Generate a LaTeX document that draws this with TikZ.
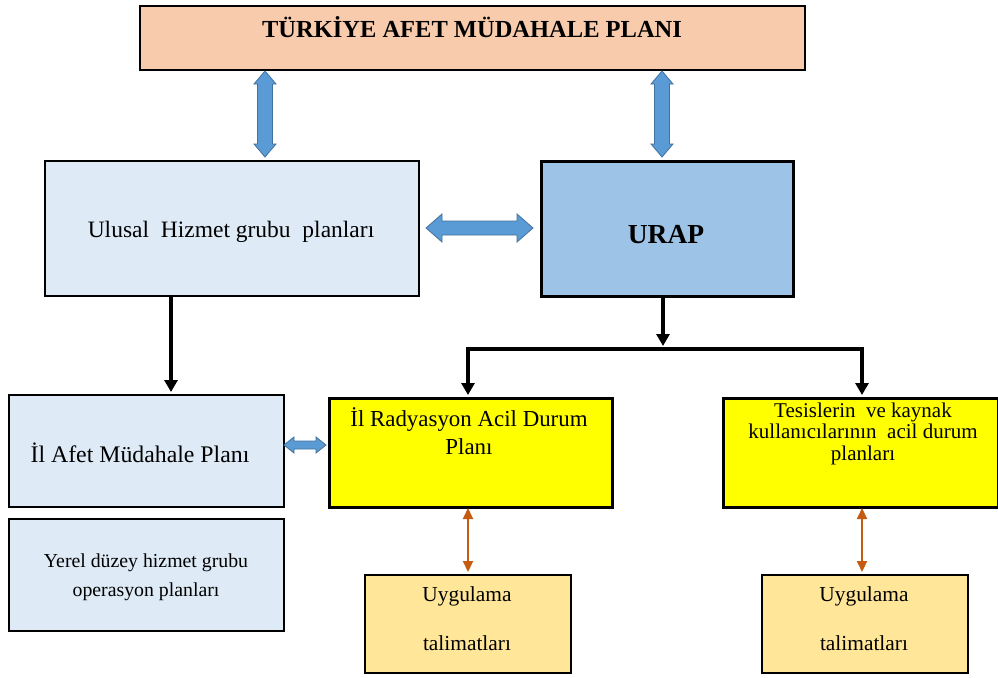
\documentclass[tikz,border=0pt]{standalone}
\usepackage{fontspec}
\setmainfont{Liberation Serif}
\usetikzlibrary{arrows.meta,calc}
\definecolor{peach}{HTML}{F8CBAD}
\definecolor{lblue}{HTML}{DEEBF7}
\definecolor{mblue}{HTML}{9DC3E6}
\definecolor{ablue}{HTML}{5B9BD5}
\definecolor{aedge}{HTML}{41719C}
\definecolor{lyel}{HTML}{FFE699}
\definecolor{pyel}{HTML}{FFFF00}
\definecolor{oarr}{HTML}{C55A11}
\tikzset{
  box/.style={draw=black, line width=2pt, inner sep=0pt, anchor=north west},
  blk/.style={draw=black, line width=4pt, -{Triangle[length=12pt,width=13pt]}},
  blkline/.style={draw=black, line width=4pt},
  org/.style={draw=oarr, line width=2pt, {Triangle[length=11pt,width=10pt]}-{Triangle[length=11pt,width=10pt]}},
  barrow/.style={fill=ablue, draw=aedge, line width=0.8pt, line join=miter}
}
% double block arrows: position, start, end, half shaft, half head, head length
\newcommand\vdblarrow[6]{%
  \filldraw[barrow] (#1,#2) -- (#1+#5,#2+#6) -- (#1+#4,#2+#6) -- (#1+#4,#3-#6) -- (#1+#5,#3-#6)
   -- (#1,#3) -- (#1-#5,#3-#6) -- (#1-#4,#3-#6) -- (#1-#4,#2+#6) -- (#1-#5,#2+#6) -- cycle;}
\newcommand\hdblarrow[6]{%
  \filldraw[barrow] (#2,#1) -- (#2+#6,#1+#5) -- (#2+#6,#1+#4) -- (#3-#6,#1+#4) -- (#3-#6,#1+#5)
   -- (#3,#1) -- (#3-#6,#1-#5) -- (#3-#6,#1-#4) -- (#2+#6,#1-#4) -- (#2+#6,#1-#5) -- cycle;}
\begin{document}
\begin{tikzpicture}[x=1pt,y=-1pt]
\useasboundingbox[fill=white] (0,0) rectangle (998,677);
% boxes
\node[box, fill=peach, minimum width=665pt, minimum height=64pt] (top) at (139,5) {};
\node[font=\fontsize{24.5}{28}\selectfont\bfseries] (toptxt) at (472,27) {TÜRKİYE AFET MÜDAHALE PLANI};

\node[box, fill=lblue, line width=1.6pt, minimum width=374pt, minimum height=135pt] (ulusal) at (44,160) {};
\node[font=\fontsize{23.5}{27}\selectfont] (ulusaltxt) at (231,232) {Ulusal\ \ Hizmet\ grubu\ \ planları};

\node[box, fill=mblue, line width=3pt, minimum width=252pt, minimum height=135pt] (urap) at (540,160) {};
\node[font=\fontsize{27.5}{32}\selectfont\bfseries] (uraptxt) at (666,235) {URAP};

\node[box, fill=lblue, line width=1.6pt, minimum width=275pt, minimum height=112pt] (ilafet) at (8,394) {};
\node[font=\fontsize{23.8}{27}\selectfont] (ilafettxt) at (140,453) {İl Afet Müdahale Planı};

\node[box, fill=lblue, line width=1.6pt, minimum width=275pt, minimum height=112pt] (yerel) at (8,518) {};
\node[align=center, font=\fontsize{19.8}{29}\selectfont] (yereltxt) at (146,577) {Yerel düzey hizmet grubu\\ operasyon planları};

\node[box, fill=pyel, line width=3pt, minimum width=283pt, minimum height=109pt] (ilrad) at (328,397) {};
\node[align=center, anchor=north, font=\fontsize{22.9}{28}\selectfont] (ilradtxt) at (469,404) {İl Radyasyon Acil Durum\\ Planı};

\node[box, fill=pyel, line width=3pt, minimum width=275pt, minimum height=109pt] (tesis) at (722,397) {};
\node[align=center, anchor=north, font=\fontsize{21}{21.5}\selectfont] (tesistxt) at (863,399) {Tesislerin\ \ ve\ kaynak\\ kullanıcılarının\ \ acil\ durum\\ planları};

\node[box, fill=lyel, line width=1.8pt, minimum width=206pt, minimum height=98pt] (uyg1) at (364,574) {};
\node[align=center, font=\fontsize{21.4}{49}\selectfont] (uyg1txt) at (467,619) {Uygulama\\ talimatları};

\node[box, fill=lyel, line width=1.8pt, minimum width=206pt, minimum height=98pt] (uyg2) at (761,574) {};
\node[align=center, font=\fontsize{21.4}{49}\selectfont] (uyg2txt) at (864,619) {Uygulama\\ talimatları};

% blue block arrows
\vdblarrow{265}{71}{157}{7.5}{11}{13}
\vdblarrow{662}{71}{157}{7.5}{11}{13}
\hdblarrow{228}{426}{533}{7}{14}{16}
\hdblarrow{445}{284}{326}{4}{8}{10}

% black arrows
\coordinate (uc) at (171,297);
\coordinate (ic) at (171,392);
\coordinate (rc) at (663,296);
\coordinate (jc) at (663,346);
\coordinate (lc) at (468,349);
\coordinate (rr) at (862,349);
\coordinate (ilt) at (468,395);
\coordinate (tet) at (862,395);
\draw[blk] (uc) -- (ic);
\draw[blk] (rc) -- (jc);
\draw[blkline, line cap=rect] (lc) -- (rr);
\draw[blk] (lc) -- (ilt);
\draw[blk] (rr) -- (tet);

% orange arrows
\coordinate (o1a) at (468,508);
\coordinate (o1b) at (468,572);
\coordinate (o2a) at (862,508);
\coordinate (o2b) at (862,572);
\draw[org] (o1a) -- (o1b);
\draw[org] (o2a) -- (o2b);
\end{tikzpicture}
\end{document}
